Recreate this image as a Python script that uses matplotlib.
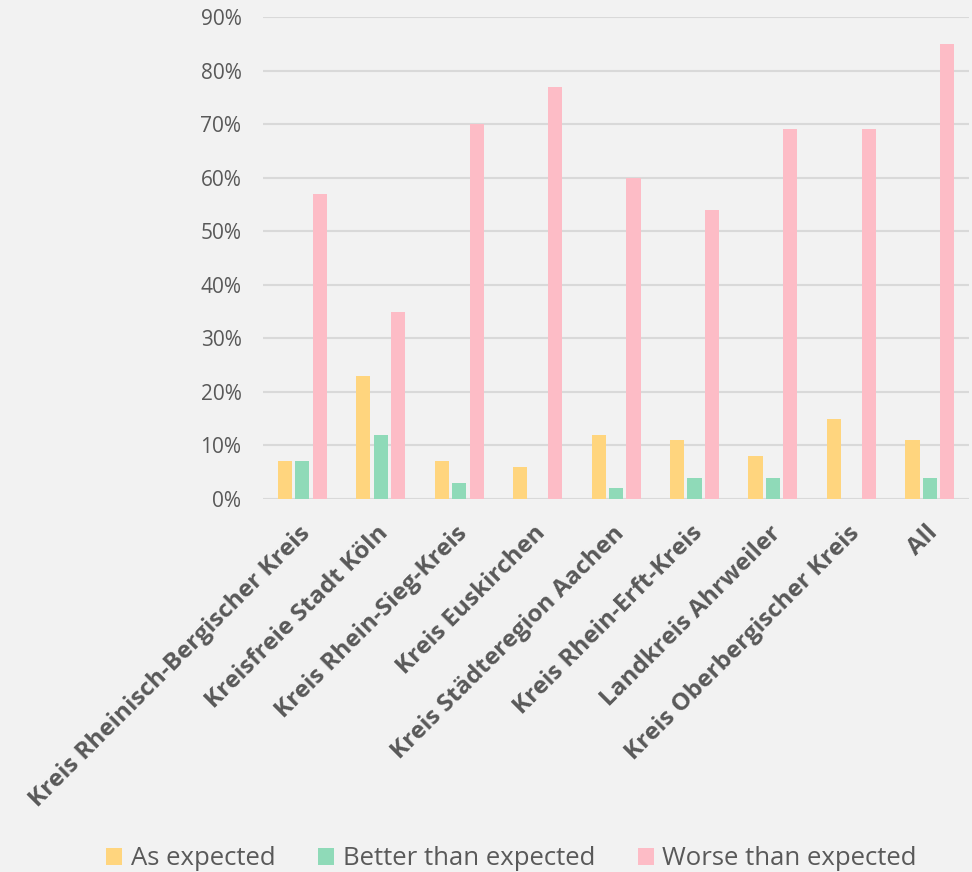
import matplotlib
matplotlib.use("Agg")
import matplotlib.pyplot as plt
import matplotlib.transforms as mtransforms
import numpy as np
from matplotlib.patches import Patch

categories = [
    "Kreis Rheinisch-Bergischer Kreis",
    "Kreisfreie Stadt Köln",
    "Kreis Rhein-Sieg-Kreis",
    "Kreis Euskirchen",
    "Kreis Städteregion Aachen",
    "Kreis Rhein-Erft-Kreis",
    "Landkreis Ahrweiler",
    "Kreis Oberbergischer Kreis",
    "All",
]
series_names = ["As expected", "Better than expected", "Worse than expected"]
as_expected = [7, 23, 7, 6, 12, 11, 8, 15, 11]
better_than_expected = [7, 12, 3, 0, 2, 4, 4, 0, 4]
worse_than_expected = [57, 35, 70, 77, 60, 54, 69, 69, 85]
y_ticks = [0, 10, 20, 30, 40, 50, 60, 70, 80, 90]

colors = ["#FFD57E", "#8FDAB8", "#FDBCC6"]
bg = "#F2F2F2"
text_color = "#595959"

fig = plt.figure(figsize=(9.72, 8.72), dpi=100, facecolor=bg)
ax = fig.add_axes([0.2706, 0.4278, 0.7264, 0.5527], facecolor=bg)

x = np.arange(len(categories))
offset = 0.222
width = 0.18
for i, (vals, c) in enumerate(zip([as_expected, better_than_expected, worse_than_expected], colors)):
    ax.bar(x + (i - 1) * offset, vals, width=width, color=c, zorder=3)

ax.set_xlim(-0.5, len(categories) - 0.5)
ax.set_ylim(0, 90)
ax.set_yticks(y_ticks)
ax.set_yticklabels([f"{v}%" for v in y_ticks], fontsize=15, color=text_color, family="Open Sans")
ax.yaxis.grid(True, color="#D9D9D9", linewidth=1.5, zorder=0)
ax.tick_params(axis="both", length=0)
ax.tick_params(axis="y", pad=15.5)
for s in ax.spines.values():
    s.set_visible(False)

ax.set_xticks(x)
ax.set_xticklabels(categories, rotation=45, ha="right", rotation_mode="anchor",
                   fontsize=17.5, fontweight="bold", color=text_color, family="Open Sans")
ax.tick_params(axis="x", pad=16)
shift = mtransforms.ScaledTranslation(-4 / 100, 0, fig.dpi_scale_trans)
for lbl in ax.get_xticklabels():
    lbl.set_transform(lbl.get_transform() + shift)

handles = [Patch(facecolor=c, edgecolor="none") for c in colors]
fig.legend(handles, series_names, loc="center", bbox_to_anchor=(0.5262, 0.015), ncol=3,
           frameon=False, prop={"family": "Open Sans", "size": 18.5}, labelcolor=text_color,
           handlelength=0.62, handleheight=0.62, handletextpad=0.35, columnspacing=1.65,
           borderpad=0, borderaxespad=0)

fig.savefig("out.png", dpi=100, facecolor=bg)
